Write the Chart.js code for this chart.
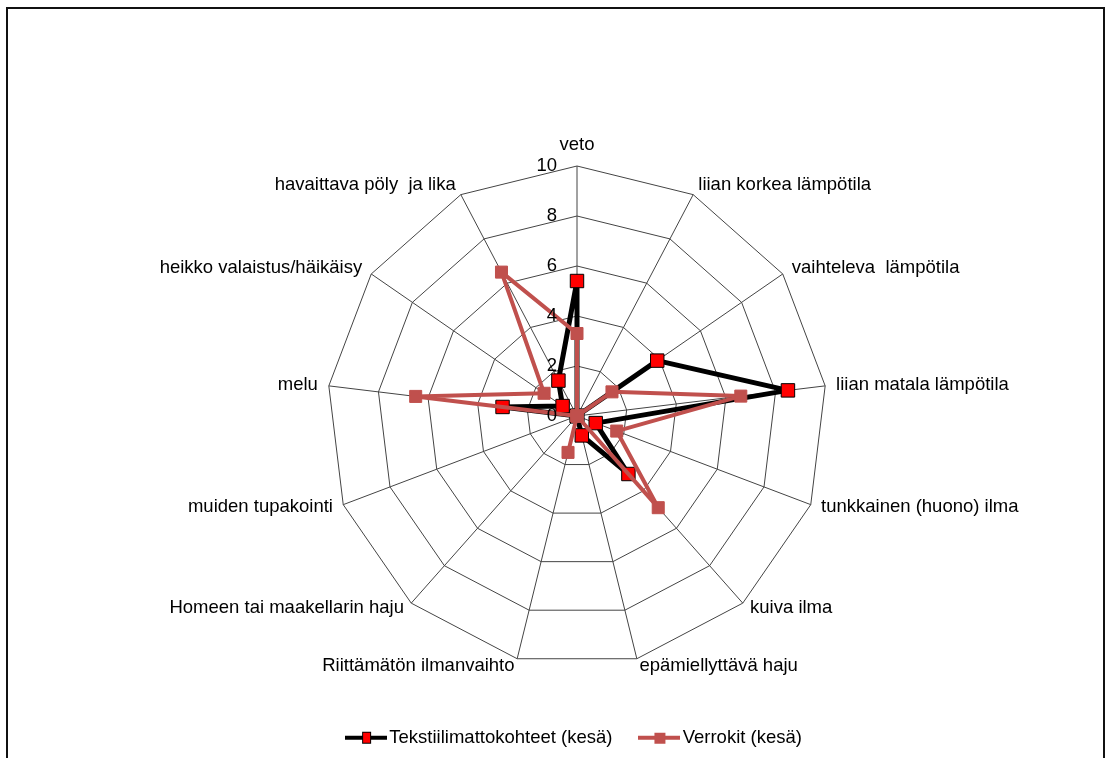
<!DOCTYPE html>
<html lang="fi">
<head>
<meta charset="utf-8">
<title>Sisäilmaston haitat kesällä</title>
<script src="https://cdn.jsdelivr.net/npm/chart.js@4.4.1/dist/chart.umd.min.js"></script>
<style>
  html, body { margin: 0; padding: 0; background: #fff; overflow: hidden; }
  #wrap { position: relative; width: 1108px; height: 758px; }
  #frame {
    position: absolute; left: 6px; top: 7px; width: 1099px; height: 780px;
    border: 2px solid #111; box-sizing: border-box; pointer-events: none;
  }
</style>
</head>
<body>
<div id="wrap">
  <canvas id="chart"></canvas>
  <div id="frame"></div>
</div>
<script>
// Haittatekijät (akselit myötäpäivään ylhäältä alkaen)
const categories = [
  'veto',
  'liian korkea lämpötila',
  'vaihteleva  lämpötila',
  'liian matala lämpötila',
  'tunkkainen (huono) ilma',
  'kuiva ilma',
  'epämiellyttävä haju',
  'Riittämätön ilmanvaihto',
  'Homeen tai maakellarin haju',
  'muiden tupakointi',
  'melu',
  'heikko valaistus/häikäisy',
  'havaittava pöly  ja lika'
];

// Sarjat
const seriesNames = ['Tekstiilimattokohteet (kesä)', 'Verrokit (kesä)'];
const tekstiilimatto = [5.4, 0, 3.9, 8.5, 0.8, 3.1, 0.8, 0, 0, 0, 3.0, 0.7, 1.6];
const verrokit       = [3.3, 0, 1.7, 6.6, 1.7, 4.9, 0, 1.5, 0, 0, 6.5, 1.6, 6.5];

// Asteikon merkinnät
const tickValues = [0, 2, 4, 6, 8, 10];

const FONT = "'Liberation Sans', Arial, sans-serif";
const FONT_SIZE = 18.5;
const RED_LINE = '#C0504D';
const GRID = '#444444';
const LABEL_GAP = 11;

// Selitteen näytekuvake: viiva ja merkki keskellä
function legendSample(lineColor, fill, stroke, mw, mh) {
  const c = document.createElement('canvas');
  c.width = 42; c.height = 14;
  const g = c.getContext('2d');
  g.fillStyle = lineColor;
  g.fillRect(0, 5, 42, 4);
  g.fillStyle = fill;
  const x = Math.round(21 - mw / 2), y = Math.round(7 - mh / 2);
  g.fillRect(x, y, mw, mh);
  if (stroke) {
    g.strokeStyle = stroke;
    g.lineWidth = 1;
    g.strokeRect(x + 0.5, y + 0.5, mw - 1, mh - 1);
  }
  return c;
}
const samples = [
  legendSample('#000', '#FF0000', '#000', 9, 12),
  legendSample(RED_LINE, RED_LINE, null, 11, 11)
];

// Akselien nimet ulkokehän kärkien viereen, pystysuunnassa kärjen kohdalle
const pointLabelPlugin = {
  id: 'axisNames',
  afterDatasetsDraw(chart) {
    const s = chart.scales.r;
    const ctx = chart.ctx;
    ctx.save();
    ctx.font = FONT_SIZE + 'px ' + FONT;
    ctx.fillStyle = '#000';
    ctx.textBaseline = 'middle';
    s._pointLabels.forEach((label, i) => {
      const a = s.getIndexAngle(i);
      const sin = Math.sin(a), cos = Math.cos(a);
      const p = s.getPointPosition(i, s.drawingArea + LABEL_GAP);
      let y = p.y;
      let align;
      if (Math.abs(sin) < 0.05) {
        align = 'center';
        y += cos > 0 ? -10 : 10;
      } else {
        align = sin > 0 ? 'left' : 'right';
        if (cos < 0) y += 4 * cos;
      }
      ctx.textAlign = align;
      ctx.fillText(label, p.x, y);
    });
    ctx.restore();
  }
};

// Säteisakselin lukuarvot akselin vasemmalle puolelle
const tickLabelPlugin = {
  id: 'tickLabels',
  afterDatasetsDraw(chart) {
    const s = chart.scales.r;
    const ctx = chart.ctx;
    ctx.save();
    ctx.font = FONT_SIZE + 'px ' + FONT;
    ctx.fillStyle = '#000';
    ctx.textAlign = 'right';
    ctx.textBaseline = 'middle';
    tickValues.forEach(v => {
      ctx.fillText(String(v), s.xCenter - 20, s.yCenter - s.getDistanceFromCenterForValue(v));
    });
    ctx.restore();
  }
};

new Chart(document.getElementById('chart'), {
  type: 'radar',
  data: {
    labels: categories,
    datasets: [
      {
        label: seriesNames[0],
        data: tekstiilimatto,
        order: 1,
        fill: false,
        borderColor: '#000',
        borderWidth: 5,
        borderJoinStyle: 'round',
        pointStyle: 'rect',
        pointRadius: 9.5,
        pointBackgroundColor: '#FF0000',
        pointBorderColor: '#000',
        pointBorderWidth: 1
      },
      {
        label: seriesNames[1],
        data: verrokit,
        order: 0,
        fill: false,
        borderColor: RED_LINE,
        borderWidth: 4,
        borderJoinStyle: 'round',
        pointStyle: 'rect',
        pointRadius: 8.5,
        pointBackgroundColor: RED_LINE,
        pointBorderColor: RED_LINE,
        pointBorderWidth: 1
      }
    ]
  },
  options: {
    responsive: true,
    maintainAspectRatio: false,
    animation: false,
    events: [],
    layout: { padding: { left: 46, right: 0, top: 166, bottom: 1 } },
    scales: {
      r: {
        min: 0,
        max: 10,
        beginAtZero: true,
        ticks: { display: false, stepSize: 2 },
        grid: { color: GRID, lineWidth: 1, circular: false },
        angleLines: { color: GRID, lineWidth: 1 },
        pointLabels: { display: false }
      }
    },
    plugins: {
      legend: {
        position: 'bottom',
        title: { display: true, text: '', font: { size: 10, lineHeight: 1 }, padding: { top: 19.5, bottom: 0 } },
        labels: {
          color: '#000',
          font: { family: FONT, size: FONT_SIZE },
          padding: 33,
          usePointStyle: true,
          pointStyleWidth: 28,
          generateLabels(chart) {
            return chart.data.datasets.map((ds, i) => ({
              text: ds.label,
              datasetIndex: i,
              pointStyle: samples[i],
              fillStyle: ds.borderColor,
              strokeStyle: ds.borderColor,
              lineWidth: 0,
              hidden: false,
              fontColor: '#000'
            }));
          }
        }
      },
      tooltip: { enabled: false }
    }
  },
  plugins: [pointLabelPlugin, tickLabelPlugin]
});
</script>
</body>
</html>
